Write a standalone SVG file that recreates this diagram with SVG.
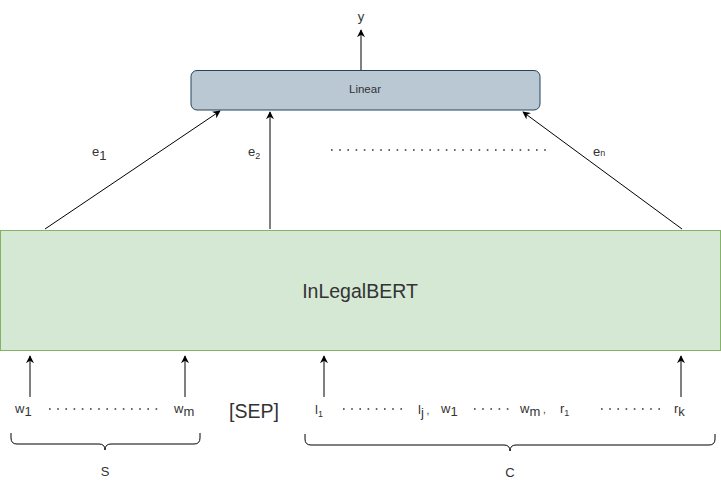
<svg xmlns="http://www.w3.org/2000/svg" width="721" height="486" viewBox="0 0 721 486">
<style>
text{font-family:"Liberation Sans",Arial,sans-serif;fill:#333}
.t{font-size:13px}
.ln{stroke:#000;stroke-width:1;fill:none}
.dot{stroke:#333;stroke-width:1.6;stroke-dasharray:1.6 6.6;fill:none}
.br{stroke:#000;stroke-width:1;fill:none}
</style>
<defs>
<marker id="ah" viewBox="0 0 10 10" refX="9" refY="5" markerWidth="8" markerHeight="8" orient="auto" markerUnits="userSpaceOnUse">
<path d="M0,0 L10,5 L0,10 L3,5 Z" fill="#000"/>
</marker>
</defs>
<rect width="721" height="486" fill="#fff"/>
<g id="linear">
<rect x="191" y="70.5" width="349" height="39.5" rx="6" fill="#bac8d3" stroke="#23445d"/>
<text x="365" y="93" font-size="11.5" text-anchor="middle">Linear</text>
</g>
<g id="bert">
<rect x="0.5" y="230.5" width="720" height="120" fill="#d5e8d4" stroke="#82b366"/>
<text x="360" y="298" font-size="19.5" text-anchor="middle">InLegalBERT</text>
</g>
<g id="connectors">
<line class="ln" x1="361" y1="70" x2="361" y2="30" marker-end="url(#ah)"/>
<line class="ln" x1="45" y1="229" x2="220" y2="111" marker-end="url(#ah)"/>
<line class="ln" x1="270" y1="229" x2="270" y2="112" marker-end="url(#ah)"/>
<line class="ln" x1="682" y1="229" x2="523" y2="112" marker-end="url(#ah)"/>
<line class="ln" x1="30" y1="397" x2="30" y2="356" marker-end="url(#ah)"/>
<line class="ln" x1="185" y1="397" x2="185" y2="356" marker-end="url(#ah)"/>
<line class="ln" x1="324" y1="397" x2="324" y2="356" marker-end="url(#ah)"/>
<line class="ln" x1="681" y1="397" x2="681" y2="356" marker-end="url(#ah)"/>
</g>
<g id="labels">
<text x="361" y="21" font-size="13" text-anchor="middle">y</text>
<text x="92" y="156" class="t">e<tspan dy="4">1</tspan></text>
<text x="248" y="156" class="t">e<tspan dy="3" font-size="9">2</tspan></text>
<text x="593" y="156" class="t">e<tspan font-size="9">n</tspan></text>
<path class="dot" d="M331,150 H552"/>
</g>
<g id="tokens">
<text x="15" y="413" class="t">w<tspan dy="3">1</tspan></text>
<path class="dot" d="M49,409 H158"/>
<text x="174" y="413" class="t">w<tspan dy="3">m</tspan></text>
<text x="229" y="418" font-size="19.5">[SEP]</text>
<text x="315" y="414" class="t">l<tspan dy="3" font-size="9">1</tspan></text>
<path class="dot" d="M343,409 H404"/>
<text x="418" y="414" class="t">l<tspan dy="3">j</tspan><tspan dy="-3" font-size="10"> , </tspan></text>
<text x="441" y="413" class="t">w<tspan dy="3">1</tspan></text>
<path class="dot" d="M474,409 H512"/>
<text x="520" y="413" class="t">w<tspan dy="3">m</tspan><tspan dy="-3" font-size="10"> , </tspan></text>
<text x="560" y="413" class="t">r<tspan dy="3" font-size="9">1</tspan></text>
<path class="dot" d="M601,409 H662"/>
<text x="674" y="413" class="t">r<tspan dy="3">k</tspan></text>
</g>
<g id="braceS">
<path class="br" d="M11,433 V438 Q11,444 17,444 H99 Q105,444 105,450 Q105,444 111,444 H194 Q200,444 200,438 V433"/>
<text x="105" y="476" class="t" text-anchor="middle">S</text>
</g>
<g id="braceC">
<path class="br" d="M305,434 V439 Q305,445 311,445 H504 Q510,445 510,451 Q510,445 516,445 H709 Q715,445 715,439 V434"/>
<text x="510" y="477" class="t" text-anchor="middle">C</text>
</g>
</svg>
